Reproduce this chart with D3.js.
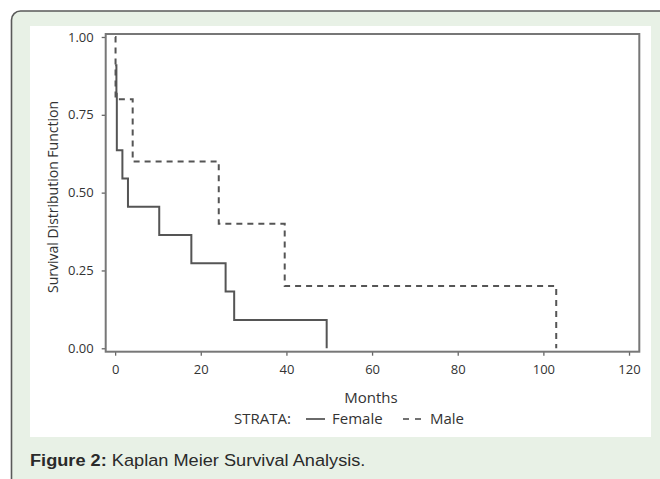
<!DOCTYPE html>
<html>
<head>
<meta charset="utf-8">
<script src="https://cdn.jsdelivr.net/npm/d3@7"></script>
<style>
  body { margin: 0; background: #fff; }
  svg { display: block; }
</style>
</head>
<body>
<div id="container"></div>
<script>
// tick values
const xTicks = [0, 20, 40, 60, 80, 100, 120];
const yTicks = [0, 0.25, 0.5, 0.75, 1];

// step points (months, survival)
const femaleTime = [0, 0.3, 0.4, 1.7, 3.0, 10.3, 17.8, 25.8, 27.8, 49.4];
const femaleSurv = [0.909, 0.818, 0.636, 0.545, 0.455, 0.364, 0.273, 0.182, 0.091, 0];
const maleTime = [0, 0.1, 4.1, 24.2, 39.6, 103];
const maleSurv = [1, 0.8, 0.6, 0.4, 0.2, 0];

const width = 660;
const height = 479;

const svg = d3.select('#container')
              .append('svg')
              .attr('width', width)
              .attr('height', height);

// card and white panel
svg.append('rect')
   .attr('x', 11.5).attr('y', 11)
   .attr('width', 700).attr('height', 520)
   .attr('rx', 9)
   .attr('fill', '#e8f1e6')
   .attr('stroke', '#5a5a5a')
   .attr('stroke-width', 1.6);

svg.append('rect')
   .attr('x', 30).attr('y', 26)
   .attr('width', 621).attr('height', 411)
   .attr('fill', '#fff');

// scales
const x = d3.scaleLinear().domain([-2.2, 122.4]).range([105.7, 639.3]);
const y = d3.scaleLinear().domain([-0.011, 1.0096]).range([351.7, 34]);

const textColor = '#333';
const font = "'Open Sans', sans-serif";

// axes
const xAxis = svg.append('g')
   .attr('transform', `translate(0, ${y.range()[0]})`)
   .call(d3.axisBottom(x).tickValues(xTicks).tickSize(4).tickPadding(9).tickSizeOuter(0));

const yAxis = svg.append('g')
   .attr('transform', `translate(${x.range()[0]}, 0)`)
   .call(d3.axisLeft(y).tickValues(yTicks).tickFormat(d3.format('.2f')).tickSize(4).tickPadding(8).tickSizeOuter(0));

[xAxis, yAxis].forEach((g) => {
    g.select('.domain').remove();
    g.selectAll('line').attr('stroke', '#666').attr('stroke-width', 1.3);
    g.selectAll('text')
     .attr('fill', textColor)
     .style('font-family', font)
     .style('font-size', '13px');
});

// frame
svg.append('rect')
   .attr('x', x.range()[0]).attr('y', y.range()[1])
   .attr('width', x.range()[1] - x.range()[0])
   .attr('height', y.range()[0] - y.range()[1])
   .attr('fill', 'none')
   .attr('stroke', '#777')
   .attr('stroke-width', 2);

// survival curves
const step = d3.line()
               .x((d) => x(d[0]))
               .y((d) => y(d[1]))
               .curve(d3.curveStepAfter);

const female = femaleTime.map((t, i) => [t, femaleSurv[i]]);
const male = maleTime.map((t, i) => [t, maleSurv[i]]);

svg.append('path')
   .attr('d', step(female))
   .attr('fill', 'none')
   .attr('stroke', '#555')
   .attr('stroke-width', 2);

svg.append('path')
   .attr('d', step(male))
   .attr('fill', 'none')
   .attr('stroke', '#555')
   .attr('stroke-width', 2)
   .attr('stroke-dasharray', '6,5');

// axis titles
svg.append('text')
   .attr('x', 371).attr('y', 397)
   .attr('text-anchor', 'middle')
   .attr('dominant-baseline', 'central')
   .attr('fill', textColor)
   .style('font-family', font)
   .style('font-size', '15px')
   .text('Months');

svg.append('text')
   .attr('transform', 'translate(52, 197) rotate(-90)')
   .attr('text-anchor', 'middle')
   .attr('dominant-baseline', 'central')
   .attr('fill', textColor)
   .style('font-family', font)
   .style('font-size', '14px')
   .text('Survival Distribution Function');

// legend
const legend = svg.append('g')
                  .style('font-family', font)
                  .style('font-size', '15px')
                  .attr('fill', textColor);

legend.append('text').attr('x', 234).attr('y', 418)
      .attr('dominant-baseline', 'central').text('STRATA:');
legend.append('line').attr('x1', 306).attr('x2', 325).attr('y1', 419).attr('y2', 419)
      .attr('stroke', '#444').attr('stroke-width', 1.6);
legend.append('text').attr('x', 332).attr('y', 418)
      .attr('dominant-baseline', 'central').text('Female');
legend.append('line').attr('x1', 403).attr('x2', 423).attr('y1', 419).attr('y2', 419)
      .attr('stroke', '#444').attr('stroke-width', 1.6)
      .attr('stroke-dasharray', '6,6');
legend.append('text').attr('x', 430).attr('y', 418)
      .attr('dominant-baseline', 'central').text('Male');

// caption
const caption = svg.append('text')
   .attr('transform', 'translate(30, 466) scale(1.07, 1)')
   .attr('fill', '#2a2a2a')
   .style('font-family', "'Liberation Sans', Arial, sans-serif")
   .style('font-size', '17px');
caption.append('tspan').style('font-weight', 'bold').text('Figure 2:');
caption.append('tspan').text(' Kaplan Meier Survival Analysis.');
</script>
</body>
</html>
